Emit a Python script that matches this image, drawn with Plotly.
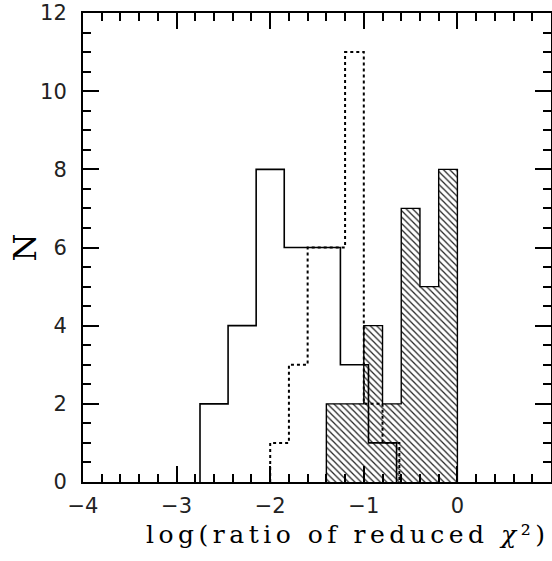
import plotly.graph_objects as go

# Histogram data (bin edges and counts)
solid_edges = [-2.75, -2.45, -2.15, -1.85, -1.55, -1.25, -0.95, -0.65]
solid_counts = [2, 4, 8, 6, 6, 3, 1]

dotted_edges = [-2.0, -1.8, -1.6, -1.4, -1.2, -1.0, -0.8, -0.62]
dotted_counts = [1, 3, 6, 6, 11, 2, 1]

hatched_edges = [-1.4, -1.2, -1.0, -0.8, -0.6, -0.4, -0.2, 0.0]
hatched_counts = [2, 2, 4, 2, 7, 5, 8]

x_ticks = [-4, -3, -2, -1, 0, 1]
y_ticks = [0, 2, 4, 6, 8, 10, 12]

x_title = "log(ratio of reduced <i>χ</i>²)"
y_title = "N"


def step_path(edges, counts):
    xs = [edges[0]]
    ys = [0]
    for i, c in enumerate(counts):
        xs += [edges[i], edges[i + 1]]
        ys += [c, c]
    xs.append(edges[-1])
    ys.append(0)
    return xs, ys


fig = go.Figure()

hx, hy = step_path(hatched_edges, hatched_counts)
fig.add_trace(go.Scatter(
    x=hx, y=hy, mode="lines", fill="toself",
    line=dict(color="black", width=1.4),
    fillpattern=dict(shape="\\", fgcolor="#222", bgcolor="white",
                     size=4.5, solidity=0.28, fillmode="replace"),
    hoverinfo="skip", showlegend=False,
))

sx, sy = step_path(solid_edges, solid_counts)
fig.add_trace(go.Scatter(
    x=sx, y=sy, mode="lines",
    line=dict(color="black", width=1.6),
    showlegend=False,
))

dx, dy = step_path(dotted_edges, dotted_counts)
fig.add_trace(go.Scatter(
    x=dx, y=dy, mode="lines",
    line=dict(color="black", width=2, dash="dot"),
    showlegend=False,
))

tick_font = dict(family="DejaVu Sans", size=21, color="#222")

fig.update_layout(
    width=552, height=561,
    margin=dict(l=83, r=1, t=13, b=79),
    plot_bgcolor="white", paper_bgcolor="white",
    xaxis=dict(
        range=[-4, 1], tickvals=x_ticks, automargin=False,
        ticks="inside", ticklen=16, tickwidth=1.5, tickcolor="black",
        minor=dict(dtick=0.2, ticks="inside", ticklen=8, tickwidth=1.5, tickcolor="black"),
        showline=True, linecolor="black", linewidth=2, mirror="allticks",
        showgrid=False, zeroline=False,
        tickfont=tick_font, ticklabelstandoff=4,
    ),
    yaxis=dict(
        range=[0, 12], tickvals=y_ticks, automargin=False,
        ticks="inside", ticklen=16, tickwidth=1.5, tickcolor="black",
        minor=dict(dtick=0.5, ticks="inside", ticklen=8, tickwidth=1.5, tickcolor="black"),
        showline=True, linecolor="black", linewidth=2, mirror="allticks",
        showgrid=False, zeroline=False,
        tickfont=tick_font, ticklabelstandoff=10,
    ),
    annotations=[
        dict(
            text='<span style="letter-spacing:4.5px">' + x_title + '</span>',
            xref="paper", yref="paper", x=0.566, y=-0.112,
            xanchor="center", yanchor="middle", showarrow=False,
            font=dict(family="DejaVu Serif", size=25, color="black"),
        ),
        dict(
            text=y_title, textangle=-90,
            xref="paper", yref="paper", x=-0.124, y=0.5,
            xanchor="center", yanchor="middle", showarrow=False,
            font=dict(family="DejaVu Serif", size=32, color="black"),
        ),
    ],
)

fig.write_html("out.html",
               config={"displayModeBar": False},
               post_script="document.body.style.margin='0';document.body.style.overflow='hidden';")
